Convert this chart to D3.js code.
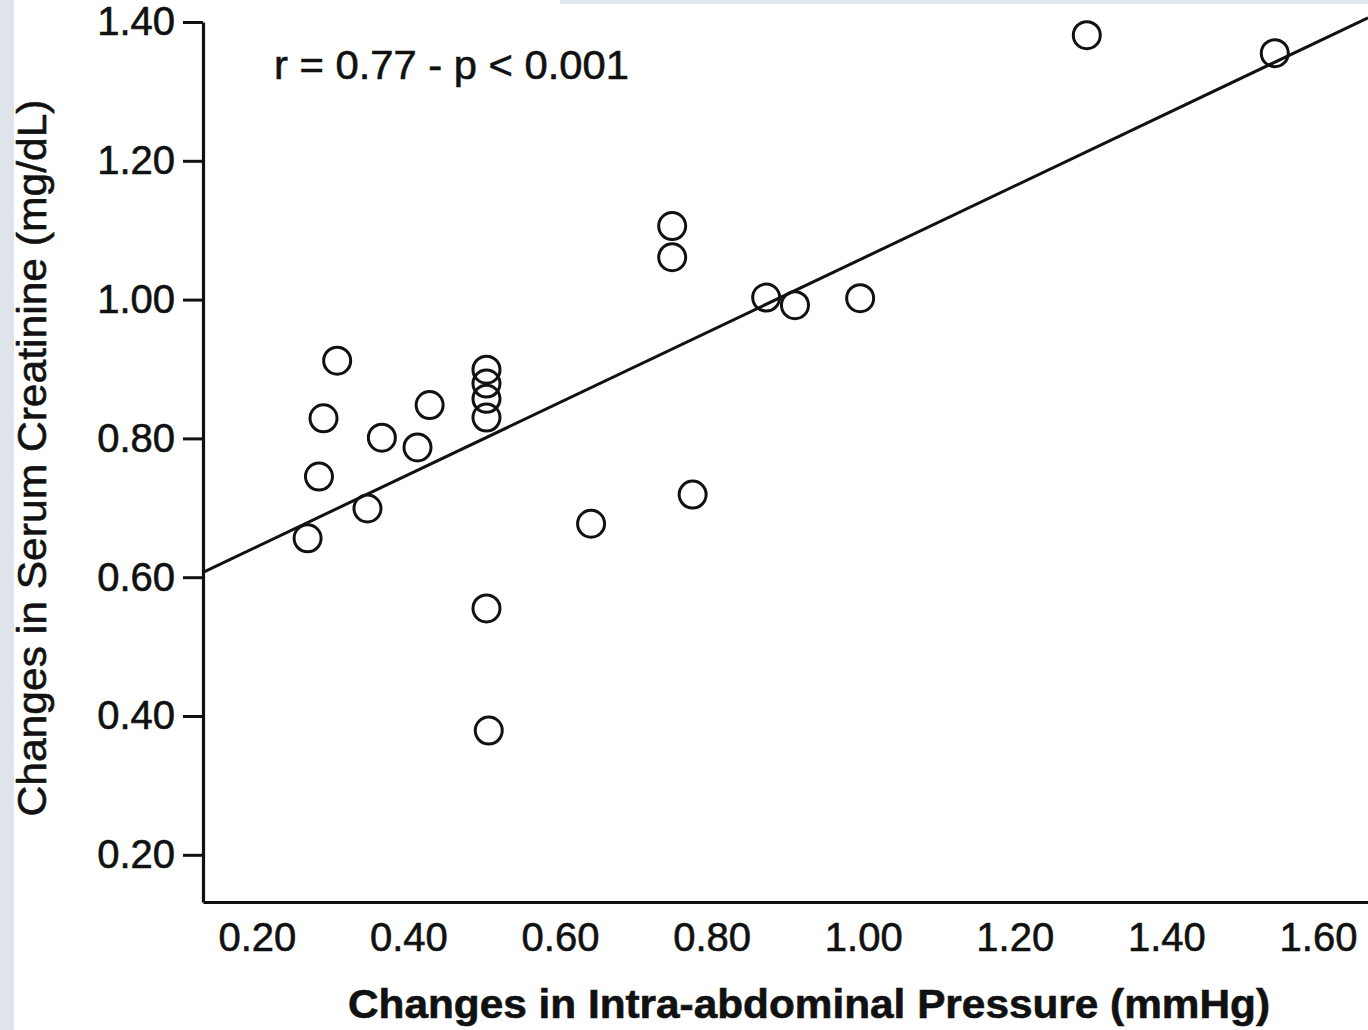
<!DOCTYPE html>
<html>
<head>
<meta charset="utf-8">
<script src="https://cdn.jsdelivr.net/npm/d3@7"></script>
<style>
  html, body { margin: 0; padding: 0; background: #fff; }
  svg { display: block; }
  text { font-family: "Liberation Sans", Arial, Helvetica, sans-serif; fill: #111; stroke: #111; stroke-width: 0.6px; }
</style>
</head>
<body>
<svg id="chart" width="1368" height="1030"></svg>
<script>
// ---- data ----
const iapChange = [0.267, 0.282, 0.288, 0.306, 0.346, 0.365, 0.412, 0.428,
                   0.503, 0.503, 0.503, 0.503, 0.503, 0.506,
                   0.641, 0.748, 0.748, 0.775, 0.872, 0.910, 0.996, 1.295, 1.543];
const creatChange = [0.656, 0.745, 0.829, 0.912, 0.699, 0.801, 0.787, 0.848,
                     0.899, 0.879, 0.857, 0.830, 0.555, 0.379,
                     0.677, 1.106, 1.061, 0.719, 1.003, 0.992, 1.002, 1.381, 1.355];
const fitX = [0.129, 1.666];
const fitY = [0.607, 1.406];
const xTicks = [0.20, 0.40, 0.60, 0.80, 1.00, 1.20, 1.40, 1.60];
const yTicks = [0.20, 0.40, 0.60, 0.80, 1.00, 1.20, 1.40];
const xTitle = "Changes in Intra-abdominal Pressure (mmHg)";
const yTitle = "Changes in Serum Creatinine (mg/dL)";
const annotation = "r = 0.77 - p < 0.001";

// ---- layout ----
const svg = d3.select("#chart");
const mLeft = 203, mRight = 1368, mTop = 22, mBottom = 902;

// faint background strips seen at the image edges
svg.append("rect").attr("x", 0).attr("y", 0).attr("width", 14).attr("height", 1030).attr("fill", "#dfe4ea");
svg.append("rect").attr("x", 560).attr("y", 0).attr("width", 808).attr("height", 4).attr("fill", "#e3e7ee");

const x = d3.scaleLinear().domain([0.129, 1.666]).range([mLeft, mRight]);
const y = d3.scaleLinear().domain([0.132, 1.40]).range([mBottom, mTop]);
const fmt = d3.format(".2f");

// y axis
const gy = svg.append("g").attr("transform", `translate(${mLeft},0)`)
  .call(d3.axisLeft(y).tickValues(yTicks).tickFormat(fmt).tickSize(20).tickSizeOuter(0).tickPadding(8));
gy.select(".domain").attr("stroke", "#111").attr("stroke-width", 3.2);
gy.selectAll(".tick line").attr("stroke", "#111").attr("stroke-width", 3);
gy.selectAll(".tick text").attr("font-size", 40).attr("fill", "#111")
  .attr("font-family", "'Liberation Sans', Arial, sans-serif");

// x axis
const gx = svg.append("g").attr("transform", `translate(0,${mBottom})`)
  .call(d3.axisBottom(x).tickValues(xTicks).tickFormat(fmt).tickSize(0).tickSizeOuter(0).tickPadding(21));
gx.select(".domain").attr("stroke", "#111").attr("stroke-width", 3.2);
gx.selectAll(".tick text").attr("font-size", 40).attr("fill", "#111")
  .attr("font-family", "'Liberation Sans', Arial, sans-serif");

// regression line
svg.append("line")
  .attr("x1", x(fitX[0])).attr("y1", y(fitY[0]))
  .attr("x2", x(fitX[1])).attr("y2", y(fitY[1]))
  .attr("stroke", "#111").attr("stroke-width", 3);

// points
const pts = iapChange.map((v, i) => ({ x: v, y: creatChange[i] }));
svg.append("g").selectAll("circle").data(pts).join("circle")
  .attr("cx", d => x(d.x)).attr("cy", d => y(d.y)).attr("r", 13.5)
  .attr("fill", "none").attr("stroke", "#111").attr("stroke-width", 3);

// annotation
svg.append("text").attr("x", 274).attr("y", 79).attr("font-size", 40)
  .attr("textLength", 355).attr("lengthAdjust", "spacingAndGlyphs").text(annotation);

// axis titles
svg.append("text").attr("x", 809).attr("y", 1018).attr("text-anchor", "middle")
  .attr("font-size", 40).attr("font-weight", "bold")
  .attr("textLength", 922).attr("lengthAdjust", "spacingAndGlyphs").text(xTitle);
svg.append("text").attr("transform", "translate(46,458) rotate(-90)")
  .attr("text-anchor", "middle").attr("font-size", 41)
  .attr("textLength", 717).attr("lengthAdjust", "spacingAndGlyphs").text(yTitle);
</script>
</body>
</html>
